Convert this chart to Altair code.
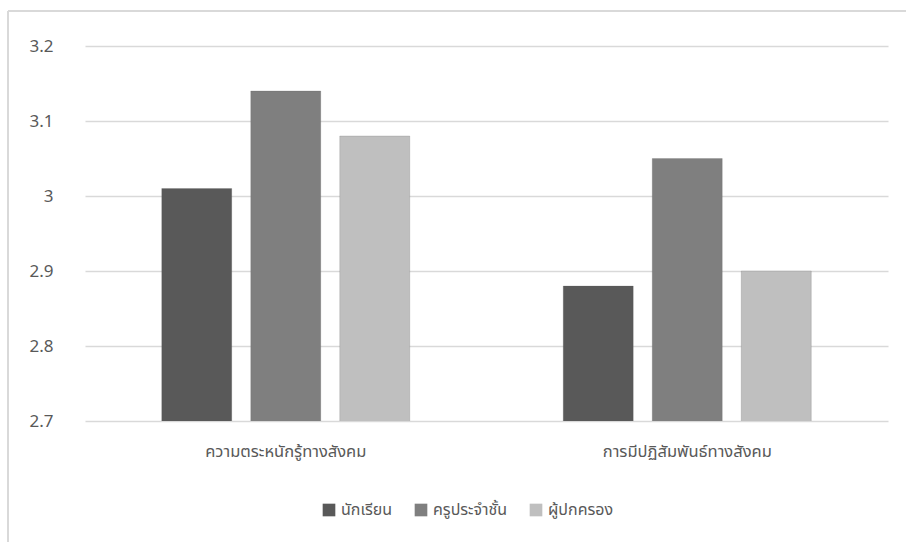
import altair as alt
import pandas as pd

# Social-skill dimensions (x categories) and respondent groups (series)
dimensions = ["ความตระหนักรู้ทางสังคม", "การมีปฏิสัมพันธ์ทางสังคม"]
groups = ["นักเรียน", "ครูประจำชั้น", "ผู้ปกครอง"]
group_colors = ["#595959", "#7f7f7f", "#bfbfbf"]

# Mean scores per group, one value per dimension
students = [3.01, 2.88]
teachers = [3.14, 3.05]
parents = [3.08, 2.90]

y_ticks = [2.7, 2.8, 2.9, 3.0, 3.1, 3.2]

rows = []
for series_name, values in zip(groups, [students, teachers, parents]):
    for dim, v in zip(dimensions, values):
        rows.append({"dimension": dim, "group": series_name, "score": v})
df = pd.DataFrame(rows)

FONT = "Noto Sans, Noto Sans Thai, sans-serif"
TEXT = "#595959"
GRID = "#d9d9d9"

bars = alt.Chart(df).mark_bar(clip=True, stroke="#555555", strokeWidth=0.4, strokeOpacity=0.5).encode(
    x=alt.X(
        "dimension:N",
        sort=dimensions,
        title=None,
        scale=alt.Scale(paddingInner=0, paddingOuter=0),
        axis=alt.Axis(
            labelAngle=0,
            labelFontSize=16.5,
            labelColor=TEXT,
            labelFont=FONT,
            labelPadding=22,
            ticks=False,
            domain=False,
        ),
    ),
    xOffset=alt.XOffset(
        "group:N",
        sort=groups,
        scale=alt.Scale(paddingInner=0.2135, paddingOuter=0.862),
    ),
    y=alt.Y(
        "score:Q",
        title=None,
        scale=alt.Scale(domain=[2.7, 3.2], nice=False, zero=False),
        axis=alt.Axis(
            values=y_ticks,
            format="~g",
            labelFontSize=17,
            labelColor=TEXT,
            labelFont=FONT,
            labelPadding=32,
            ticks=False,
            domain=False,
            gridColor=GRID,
            gridWidth=1.5,
        ),
    ),
    color=alt.Color(
        "group:N",
        sort=groups,
        scale=alt.Scale(domain=groups, range=group_colors),
        legend=alt.Legend(
            title=None,
            orient="none",
            legendX=236,
            legendY=456,
            direction="horizontal",
            symbolType="square",
            symbolSize=160,
            symbolStrokeWidth=0,
            labelFontSize=16,
            labelColor=TEXT,
            labelFont=FONT,
            labelOffset=4,
            columnPadding=20,
            labelLimit=300,
        ),
    ),
)

# Outer chart frame (top and left edges)
frame_top = alt.Chart(df).mark_rule(color=GRID, strokeWidth=1.5, clip=False).encode(
    x=alt.value(-77), x2=alt.value(840), y=alt.value(-35)
)
frame_left = alt.Chart(df).mark_rule(color=GRID, strokeWidth=1.5, clip=False).encode(
    x=alt.value(-77), y=alt.value(-35), y2=alt.value(600)
)

chart = (
    alt.layer(bars, frame_top, frame_left)
    .properties(
        width=803,
        height=375,
        autosize=alt.AutoSizeParams(type="none"),
        padding={"left": 85, "top": 46, "right": 18, "bottom": 121},
        background="white",
    )
    .configure_view(stroke=None)
)

chart.save("out.html", embed_options={"renderer": "svg", "actions": False})
